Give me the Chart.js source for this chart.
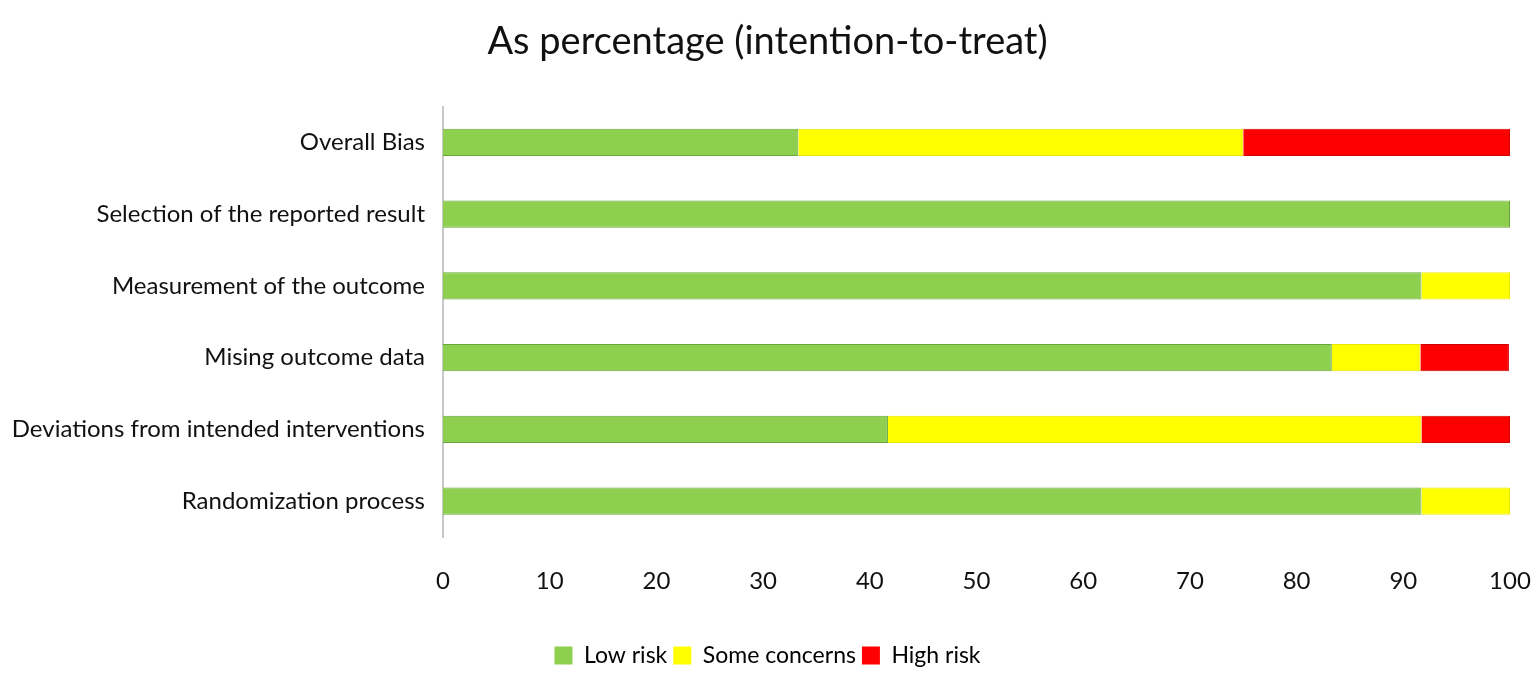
<!DOCTYPE html>
<html>
<head>
<meta charset="utf-8">
<script src="https://cdn.jsdelivr.net/npm/chart.js@4"></script>
<style>
  html, body { margin: 0; padding: 0; background: #fff; }
  #wrap { width: 1535px; height: 678px; }
</style>
</head>
<body>
<div id="wrap"><canvas id="grafico" width="1535" height="678"></canvas></div>
<script>
// domains, top to bottom
const dominios = [
    "Overall Bias",
    "Selection of the reported result",
    "Measurement of the outcome",
    "Mising outcome data",
    "Deviations from intended interventions",
    "Randomization process"
];
// percentages
const lowRisk      = [33.3, 100, 91.7, 83.3, 41.7, 91.7];
const someConcerns = [41.7, 0, 8.3, 8.3, 50.0, 8.3];
const highRisk     = [25.0, 0, 0, 8.3, 8.3, 0];
const xTicks = [0, 10, 20, 30, 40, 50, 60, 70, 80, 90, 100];

const fonte = "Lato, 'Open Sans', sans-serif";

window.addEventListener("load", () => {
    const ctx = document.getElementById("grafico").getContext("2d");
    new Chart(ctx, {
        type: "bar",
        data: {
            labels: dominios,
            datasets: [
                { label: "Low risk", data: lowRisk, backgroundColor: "#8fcf4f", borderColor: "#66a63a", borderWidth: 1 },
                { label: "Some concerns", data: someConcerns, backgroundColor: "#ffff00", borderColor: "#e6e600", borderWidth: 1 },
                { label: "High risk", data: highRisk, backgroundColor: "#ff0000", borderColor: "#d00000", borderWidth: 1 }
            ]
        },
        options: {
            indexAxis: "y",
            responsive: false,
            animation: false,
            barPercentage: 0.38,
            categoryPercentage: 1,
            layout: { padding: { left: 0, right: 0, top: 0, bottom: 1 } },
            plugins: {
                title: {
                    display: true,
                    text: "As percentage (intention-to-treat)",
                    color: "#111",
                    font: { family: fonte, size: 38, weight: "normal" },
                    padding: { top: 19, bottom: 42 }
                },
                legend: {
                    position: "bottom",
                    labels: {
                        color: "#111",
                        font: { family: fonte, size: 23 },
                        boxWidth: 18,
                        boxHeight: 18,
                        padding: 6,
                        generateLabels: (chart) => chart.data.datasets.map((ds, i) => ({
                            text: ds.label,
                            fillStyle: ds.backgroundColor,
                            strokeStyle: ds.backgroundColor,
                            lineWidth: 0,
                            datasetIndex: i
                        }))
                    }
                },
                tooltip: { enabled: false }
            },
            scales: {
                x: {
                    stacked: true,
                    min: 0,
                    max: 100,
                    afterBuildTicks: (axis) => { axis.ticks = xTicks.map(v => ({ value: v })); },
                    grid: { display: false, drawTicks: false },
                    border: { display: false },
                    ticks: { color: "#111", font: { family: fonte, size: 24 }, padding: 30 },
                    afterFit: (axis) => { axis.height = 101; axis.paddingRight = 25; }
                },
                y: {
                    stacked: true,
                    grid: { display: false, drawTicks: false },
                    border: { display: true, color: "#c8c8c8", width: 2 },
                    ticks: { color: "#111", font: { family: fonte, size: 24 }, padding: 18 },
                    afterFit: (axis) => { axis.width = 443; }
                }
            }
        }
    });
});
</script>
</body>
</html>
